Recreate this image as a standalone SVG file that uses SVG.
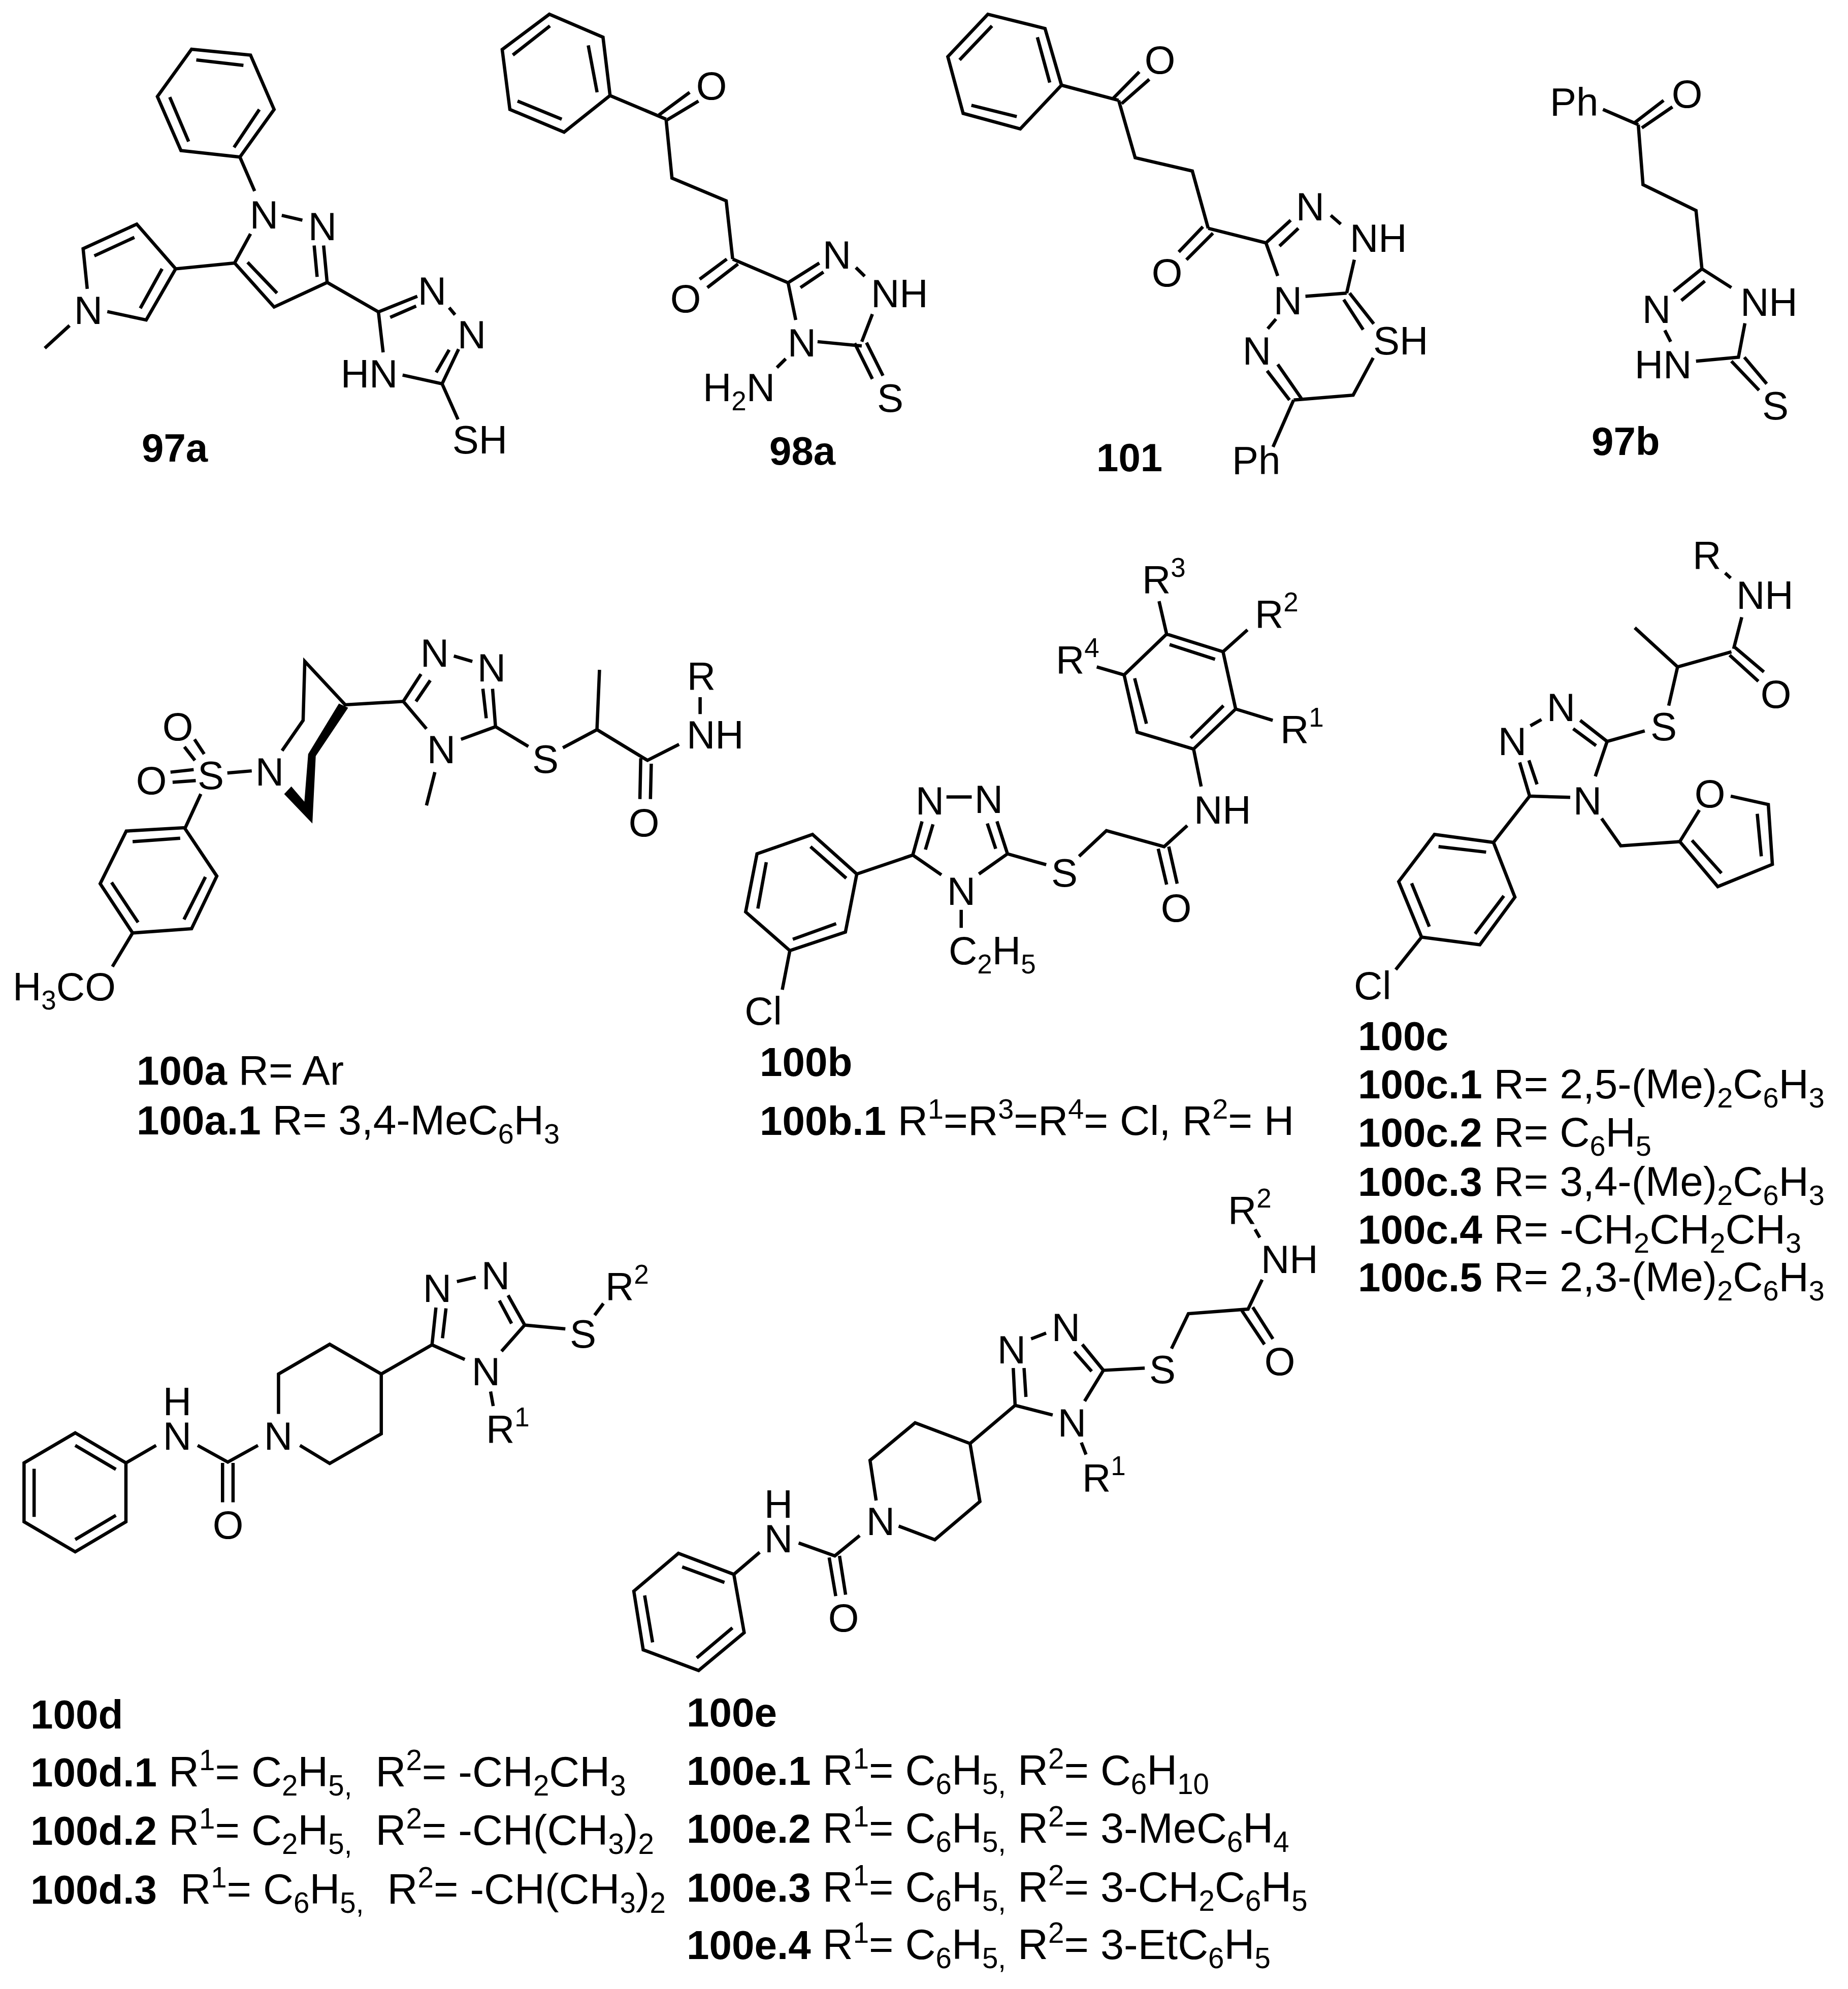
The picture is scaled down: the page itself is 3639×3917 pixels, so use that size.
<svg xmlns="http://www.w3.org/2000/svg" width="3639" height="3917" viewBox="0 0 3639 3917">
<style>
text{font-family:"Liberation Sans",Arial,sans-serif;font-size:78px;fill:#000;white-space:pre}
.a{text-anchor:middle}
.h{font-weight:700}
.t{font-size:82px}
.w{font-size:83px}
.t .h,.w .h,.t.h,.w.h{font-size:80px}
.d{font-size:.68em;baseline-shift:-18px}
.u{font-size:.68em;baseline-shift:32px}
.b{fill:none;stroke:#000;stroke-width:6.5;vector-effect:non-scaling-stroke}
</style>
<rect width="3639" height="3917" fill="#fff"/>
<g id="bonds">
<path class="b" transform="scale(1.1607,.6378)" d="M325 152L425 170L465 338L407 485L307 465L267 298ZM333 185L413 202M440 338L397 455M320 437L288 300M407 485L432 590M478 665L513 680M425 722L398 812L465 948L555 872L549 758M533 758L538 855M420 810L470 905M398 812L298 830L232 692L141 768L148 892M228 733L160 790M298 830L248 988L182 962M275 830L238 952M118 1005L76 1075M555 872L642 963L650 1088M642 963L708 915M662 980L706 945M762 950L772 972M778 1078L750 1185M762 1080L740 1150M683 1158L750 1185L777 1295"/>
<path class="b" transform="scale(1.1607,.6378)" d="M932 44L1023 115L1035 295L957 408L865 338L852 153ZM933 80L870 170M998 140L1013 285M878 312L953 368M1035 295L1130 368M1118 355L1170 285M1132 370L1185 312M1130 368L1140 550L1232 620L1243 800M1187 862L1233 800M1200 888L1252 815M1243 800L1337 873L1350 988M1337 873L1390 812M1358 888L1397 840M1452 826L1467 853M1480 970L1462 1055M1387 1055L1462 1068M1450 1060L1480 1170M1470 1058L1498 1160M1333 1108L1318 1135"/>
<path class="b" transform="translate(1820,0) scale(1.1601,.6378)" d="M108 44L205 88L233 263L163 398L66 350L40 175ZM115 80L60 185M192 115L213 255M80 325L157 360M233 263L330 310M320 305L365 222M335 320L382 245M330 310L358 487L455 528L482 705M432 778L473 700M445 802L490 720M482 705L580 750L600 852M580 750L622 680M603 760L635 705M690 665L707 692M730 802L717 905M647 915L717 905M722 905L763 1000M712 925L745 1018M762 1105L728 1220L627 1235M597 985L583 1015M600 1125L640 1230M582 1145L620 1235M627 1235L592 1380"/>
<path class="b" transform="translate(1820,0) scale(1.1601,.6378)" d="M1152 338L1212 385M1205 380L1255 310M1218 395L1270 330M1212 385L1220 570L1310 650L1320 830L1370 888M1320 830L1272 900M1325 868L1285 928M1393 998L1382 1103L1310 1115M1257 1020L1267 1055M1370 1115L1417 1205M1392 1103L1430 1185"/>
<path class="b" transform="translate(0,1000) scale(.829)" d="M438 760L515 875L455 1000L315 1010L238 893L300 768ZM428 785L315 793M488 877L437 978M328 985L265 890M477 680L440 760M315 1010L267 1090M405 628L460 622M410 652L465 648M438 568L463 600M462 550L485 585M540 630L598 625M670 577L720 505L724 365L820 468L958 460L1013 525M958 460L1000 395M988 460L1022 410M1078 352L1122 365M1177 520L1170 430M1155 500L1147 430M1095 550L1177 520L1255 567M1033 628L1013 707M1337 570L1418 527L1424 385M1418 527L1538 600L1613 562M1522 595L1520 692M1547 608L1545 692M1663 450L1663 490"/>
<polygon id="wedge" transform="translate(0,1000) scale(.829)" points="805,465 827,475 750,590 742,750 675,680 692,662 723,698 732,585"/>
<path class="b" transform="translate(1300,1000) scale(.829)" d="M362 776L467 870L440 1008L308 1052L203 960L230 822ZM357 805L442 880M418 988L315 1025M232 952L252 842M308 1052L290 1145M467 870L600 825L668 872M600 825L622 745M630 812L648 752M680 687L740 687M825 822L800 745M797 810L777 750M757 870L825 822L917 848M715 955L715 998M995 828L1060 767L1197 805L1252 755M1183 810L1203 895M1208 805L1228 893M1285 662L1267 573L1367 478L1337 342L1203 300L1102 397L1133 533L1267 573M1260 547L1338 470M1318 360L1210 325M1127 405L1155 513M1203 300L1185 222M1337 342L1395 290M1102 397L1037 378M1367 478L1455 505"/>
<path class="b" transform="translate(2500,1000) scale(.7264,.829)" d="M607 795L665 925L570 1038L412 1020L350 888L447 776ZM587 818L458 805M635 922L557 1012M433 995L385 892M412 1020L342 1097M607 795L705 685L815 688M705 685L678 605M725 657L703 600M707 518L737 503M915 555L842 505M885 565L823 525M915 555L883 638M915 555L1017 530M1082 470L1106 378L990 285M1106 378L1252 342M1262 332L1340 390M1247 350L1325 412M1258 335L1280 260M1235 155L1250 167M900 738L952 803L1112 793L1215 900L1363 847L1352 705L1250 685M1112 793L1165 718M1145 790L1225 868M1333 828L1322 727"/>
<path class="b" transform="translate(0,2350) scale(.861,.574)" d="M172 822L288 925L288 1127L172 1230L55 1127L55 925ZM172 865L265 947M265 1105L172 1188M78 1110L78 945M288 925L357 865M452 865L521 922L590 865M509 925L509 1060M533 925L533 1060M637 757L637 620L754 518L872 620L872 825L754 927L686 865M872 620L988 520L1063 570M988 520L997 392M1012 497L1020 395M1045 303L1088 288M1200 452L1162 350M1170 447L1142 368M1200 452L1147 542M1122 680L1128 730M1200 452L1293 465M1360 418L1380 378"/>
<path class="b" transform="translate(1200,2300) scale(.9247,.6378)" d="M147 1190L265 1255L287 1435L190 1552L72 1488L52 1307ZM155 1232L245 1280M262 1420L186 1513M92 1465L75 1320M265 1255L320 1187M403 1158L480 1198L533 1135M468 1203L482 1322M490 1198L503 1318M568 1027L555 903L651 787L768 851L789 1030L693 1148L616 1106M768 851L864 733L944 763M864 733L860 618M887 707L883 618M898 528L930 510M1052 625L1007 545M1027 628L990 567M1052 625L1012 720M1005 848L1015 885M1052 625L1140 618M1197 558L1233 450L1360 436L1390 345M1347 441L1395 545M1370 430L1413 528M1385 215L1375 190"/>
</g>
<g id="m97a">
<text class="a" x="520" y="450">N</text><text class="a" x="635" y="473">N</text><text class="a" x="174" y="638">N</text><text class="a" x="851" y="600">N</text><text class="a" x="929" y="686">N</text><text class="a" x="727" y="763">HN</text><text class="a" x="945" y="893">SH</text>
<text class="h" x="279" y="909">97a</text>
</g>
<g id="m98a">
<text class="a" x="1401" y="196">O</text><text class="a" x="1350" y="615">O</text><text class="a" x="1648" y="529">N</text><text x="1715" y="605">NH</text><text class="a" x="1579" y="702">N</text><text class="a" x="1753" y="811">S</text><text x="1384" y="790">H<tspan class="d">2</tspan>N</text>
<text class="h" x="1515" y="915">98a</text>
</g>
<g id="m101">
<text class="a" x="2284" y="145">O</text><text class="a" x="2298" y="564">O</text><text class="a" x="2580" y="434">N</text><text x="2658" y="496">NH</text><text class="a" x="2536" y="619">N</text><text x="2704" y="698">SH</text><text class="a" x="2475" y="718">N</text><text x="2426" y="934">Ph</text>
<text class="h" x="2159" y="928">101</text>
</g>
<g id="m97b">
<text x="3052" y="228">Ph</text><text class="a" x="3322" y="212">O</text><text class="a" x="3262" y="636">N</text><text x="3427" y="622">NH</text><text class="a" x="3275" y="745">HN</text><text class="a" x="3496" y="826">S</text>
<text class="h" x="3134" y="896">97b</text>
</g>
<g id="m100a">
<text class="a" x="415" y="1554">S</text><text class="a" x="298" y="1564">O</text><text class="a" x="350" y="1458">O</text><text class="a" x="531" y="1547">N</text><text class="a" x="856" y="1313">N</text><text class="a" x="968" y="1342">N</text><text class="a" x="869" y="1503">N</text><text class="a" x="1074" y="1522">S</text><text class="a" x="1268" y="1647">O</text><text x="1352" y="1474">NH</text><text class="a" x="1381" y="1358">R</text>
<text x="25" y="1970">H<tspan class="d">3</tspan>CO</text>
<text class="t" x="269" y="2136"><tspan class="h">100a</tspan> R= Ar</text>
<text class="t" x="269" y="2234"><tspan class="h">100a.1</tspan> R= 3,4-MeC<tspan class="d">6</tspan>H<tspan class="d">3</tspan></text>
</g>
<g id="m100b">
<text class="a" x="1831" y="1604">N</text><text class="a" x="1947" y="1601">N</text><text class="a" x="1893" y="1782">N</text><text class="a" x="2096" y="1746">S</text><text class="a" x="2316" y="1815">O</text><text x="2351" y="1622">NH</text><text class="a" x="1503" y="2018">Cl</text>
<text x="1868" y="1899">C<tspan class="d">2</tspan>H<tspan class="d">5</tspan></text>
<text x="2249" y="1168">R<tspan class="u">3</tspan></text><text x="2471" y="1236">R<tspan class="u">2</tspan></text><text x="2079" y="1326">R<tspan class="u">4</tspan></text><text x="2521" y="1463">R<tspan class="u">1</tspan></text>
<text class="t h" x="1496" y="2119">100b</text>
<text class="t" x="1496" y="2235"><tspan class="h">100b.1</tspan> R<tspan class="u">1</tspan>=R<tspan class="u">3</tspan>=R<tspan class="u">4</tspan>= Cl, R<tspan class="u">2</tspan>= H</text>
</g>
<g id="m100c">
<text class="a" x="2978" y="1487">N</text><text class="a" x="3074" y="1420">N</text><text class="a" x="3126" y="1604">N</text><text class="a" x="3276" y="1458">S</text><text class="a" x="3497" y="1394">O</text><text x="3419" y="1199">NH</text><text x="3333" y="1120">R</text><text class="a" x="3367" y="1590">O</text><text x="2666" y="1968">Cl</text>
<text class="t h" x="2674" y="2068">100c</text>
<text class="t" x="2674" y="2163"><tspan class="h">100c.1</tspan> R= 2,5-(Me)<tspan class="d">2</tspan>C<tspan class="d">6</tspan>H<tspan class="d">3</tspan></text>
<text class="t" x="2674" y="2258"><tspan class="h">100c.2</tspan> R= C<tspan class="d">6</tspan>H<tspan class="d">5</tspan></text>
<text class="t" x="2674" y="2355"><tspan class="h">100c.3</tspan> R= 3,4-(Me)<tspan class="d">2</tspan>C<tspan class="d">6</tspan>H<tspan class="d">3</tspan></text>
<text class="t" x="2674" y="2449"><tspan class="h">100c.4</tspan> R= -CH<tspan class="d">2</tspan>CH<tspan class="d">2</tspan>CH<tspan class="d">3</tspan></text>
<text class="t" x="2674" y="2543"><tspan class="h">100c.5</tspan> R= 2,3-(Me)<tspan class="d">2</tspan>C<tspan class="d">6</tspan>H<tspan class="d">3</tspan></text>
</g>
<g id="m100d">
<text class="a" x="349" y="2787">H<tspan x="349" y="2855">N</tspan></text><text class="a" x="449" y="3030">O</text><text class="a" x="548" y="2855">N</text><text class="a" x="861" y="2564">N</text><text class="a" x="976" y="2539">N</text><text class="a" x="957" y="2728">N</text><text x="957" y="2841">R<tspan class="u">1</tspan></text><text class="a" x="1148" y="2654">S</text><text x="1192" y="2560">R<tspan class="u">2</tspan></text>
<text class="w h" x="60" y="3404">100d</text>
<text class="w" x="60" y="3518"><tspan class="h">100d.1</tspan> R<tspan class="u">1</tspan>= C<tspan class="d">2</tspan>H<tspan class="d">5,</tspan>  R<tspan class="u">2</tspan>= -CH<tspan class="d">2</tspan>CH<tspan class="d">3</tspan></text>
<text class="w" x="60" y="3633"><tspan class="h">100d.2</tspan> R<tspan class="u">1</tspan>= C<tspan class="d">2</tspan>H<tspan class="d">5,</tspan>  R<tspan class="u">2</tspan>= -CH(CH<tspan class="d">3</tspan>)<tspan class="d">2</tspan></text>
<text class="w" x="60" y="3749"><tspan class="h">100d.3</tspan>  R<tspan class="u">1</tspan>= C<tspan class="d">6</tspan>H<tspan class="d">5,</tspan>  R<tspan class="u">2</tspan>= -CH(CH<tspan class="d">3</tspan>)<tspan class="d">2</tspan></text>
</g>
<g id="m100e">
<text class="a" x="1533" y="2989">H<tspan x="1533" y="3057">N</tspan></text><text class="a" x="1661" y="3213">O</text><text class="a" x="1734" y="3023">N</text><text class="a" x="1992" y="2685">N</text><text class="a" x="2099" y="2641">N</text><text class="a" x="2111" y="2829">N</text><text x="2131" y="2937">R<tspan class="u">1</tspan></text><text class="a" x="2289" y="2724">S</text><text class="a" x="2520" y="2708">O</text><text x="2483" y="2507">NH</text><text x="2418" y="2410">R<tspan class="u">2</tspan></text>
<text class="w h" x="1352" y="3400">100e</text>
<text class="w" x="1352" y="3515"><tspan class="h">100e.1</tspan> R<tspan class="u">1</tspan>= C<tspan class="d">6</tspan>H<tspan class="d">5,</tspan> R<tspan class="u">2</tspan>= C<tspan class="d">6</tspan>H<tspan class="d">10</tspan></text>
<text class="w" x="1352" y="3629"><tspan class="h">100e.2</tspan> R<tspan class="u">1</tspan>= C<tspan class="d">6</tspan>H<tspan class="d">5,</tspan> R<tspan class="u">2</tspan>= 3-MeC<tspan class="d">6</tspan>H<tspan class="d">4</tspan></text>
<text class="w" x="1352" y="3745"><tspan class="h">100e.3</tspan> R<tspan class="u">1</tspan>= C<tspan class="d">6</tspan>H<tspan class="d">5,</tspan> R<tspan class="u">2</tspan>= 3-CH<tspan class="d">2</tspan>C<tspan class="d">6</tspan>H<tspan class="d">5</tspan></text>
<text class="w" x="1352" y="3858"><tspan class="h">100e.4</tspan> R<tspan class="u">1</tspan>= C<tspan class="d">6</tspan>H<tspan class="d">5,</tspan> R<tspan class="u">2</tspan>= 3-EtC<tspan class="d">6</tspan>H<tspan class="d">5</tspan></text>
</g>
</svg>
